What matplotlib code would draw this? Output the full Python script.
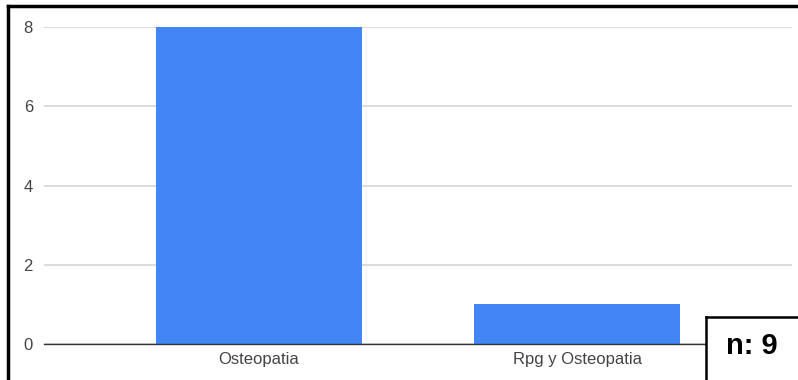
import matplotlib.pyplot as plt
from matplotlib.lines import Line2D
from matplotlib.patches import Rectangle

categories = ["Osteopatia", "Rpg y Osteopatia"]
counts = [8, 1]
y_ticks = [0, 2, 4, 6, 8]
total_label = "n: 9"

plt.rcParams["font.family"] = ["Liberation Sans", "DejaVu Sans"]

W, H = 798, 380
fig = plt.figure(figsize=(W / 100, H / 100), dpi=100)
ax = fig.add_axes([44 / W, 36 / H, (792 - 44) / W, (344 - 27) / H])

positions = list(range(len(categories)))
ax.bar(positions, counts, width=0.648, color="#4285f4", zorder=2)

ax.set_xlim(-0.676, 1.676)
ax.set_ylim(0, 8)
ax.set_yticks(y_ticks)
ax.set_xticks(positions)
ax.set_xticklabels(categories)
ax.grid(axis="y", color="#d6d6d6", linewidth=1.2, zorder=0)
ax.tick_params(length=0, labelsize=12, colors="#444444")
ax.tick_params(axis="y", pad=8)
ax.tick_params(axis="x", pad=6)
for side in ["top", "right", "left"]:
    ax.spines[side].set_visible(False)
ax.spines["bottom"].set_color("#333333")
ax.spines["bottom"].set_linewidth(1.0)
ax.spines["bottom"].set_zorder(3)

# frame lines along the left and top edge
fig.add_artist(Line2D([8 / W, 8 / W], [0, 1 - 6 / H], color="black", linewidth=2.5))
fig.add_artist(Line2D([8 / W, 1], [1 - 6 / H, 1 - 6 / H], color="black", linewidth=2.5))

# sample size box in the lower right corner, running off the edges
box_left = 706 / W
box_top = 1 - 317 / H
fig.add_artist(Rectangle((box_left, 0), 1 - box_left, box_top,
                         transform=fig.transFigure, facecolor="white",
                         edgecolor="none", zorder=5))
fig.add_artist(Line2D([box_left, box_left], [0, box_top], color="black",
                      linewidth=1.8, zorder=6))
fig.add_artist(Line2D([box_left, 1], [box_top, box_top], color="black",
                      linewidth=1.8, zorder=6))
fig.text(752 / W, 1 - 346 / H, total_label, fontsize=21, fontweight="bold",
         ha="center", va="center", zorder=7)

fig.savefig("out.png", dpi=100)
